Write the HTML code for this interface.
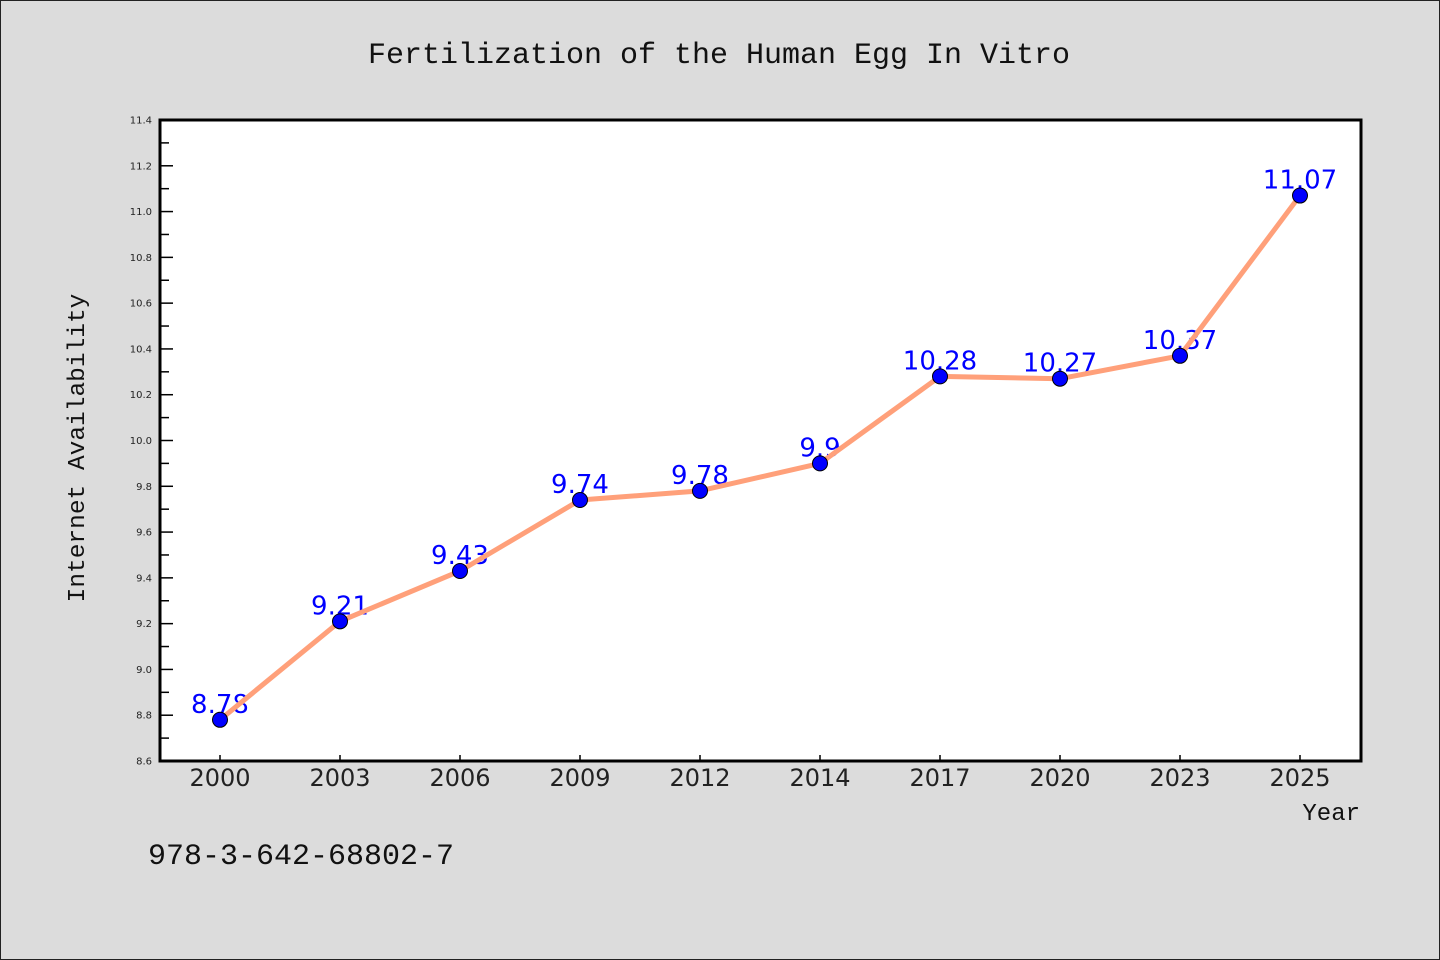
<!DOCTYPE html>
<html><head><meta charset="utf-8"><style>
html,body{margin:0;padding:0;background:#dcdcdc;}
#wrap{width:1438px;height:958px;border:1px solid #222;position:relative;background:#dcdcdc;overflow:hidden}
svg{position:absolute;left:-1px;top:-1px}
</style></head><body>
<div id="wrap">
<svg id="chart" width="1440" height="960">
<text x="719" y="63" text-anchor="middle" font-family="'Liberation Mono',monospace" font-size="30" fill="#111">Fertilization of the Human Egg In Vitro</text>
<text transform="translate(84,448) rotate(-90)" text-anchor="middle" font-family="'Liberation Mono',monospace" font-size="24.5" fill="#111">Internet Availability</text>
<text x="1360" y="820" text-anchor="end" font-family="'Liberation Mono',monospace" font-size="24" fill="#111">Year</text>
<text x="148" y="864" font-family="'Liberation Mono',monospace" font-size="30" fill="#111">978-3-642-68802-7</text>
<rect x="160" y="120" width="1201" height="641" fill="#fff"/>
<g id="g"></g>
<rect x="160" y="120" width="1201" height="641" fill="none" stroke="#000" stroke-width="3"/>
</svg></div>
<script>
const categories=["2000","2003","2006","2009","2012","2014","2017","2020","2023","2025"];
const values=[8.78,9.21,9.43,9.74,9.78,9.9,10.28,10.27,10.37,11.07];
const valueLabels=["8.78","9.21","9.43","9.74","9.78","9.9","10.28","10.27","10.37","11.07"];
const yTicks=[8.6,8.8,9.0,9.2,9.4,9.6,9.8,10.0,10.2,10.4,10.6,10.8,11.0,11.2,11.4];
const yMin=8.6,yMax=11.4;
const L=160,R=1360,T=120,B=761;
const ns="http://www.w3.org/2000/svg";
const g=document.getElementById('g');
function y(v){return B-(v-yMin)/(yMax-yMin)*(B-T);}
function x(i){return L+(R-L)/categories.length*(i+0.5);}
function mk(t,a){const e=document.createElementNS(ns,t);for(const k in a)e.setAttribute(k,a[k]);g.appendChild(e);return e;}
yTicks.forEach((v,i)=>{
  const t=mk('line',{x1:L,x2:L+13,y1:y(v),y2:y(v),stroke:'#000','stroke-width':1.5});
  
  
  const l=mk('text',{x:L-8,y:y(v)+3.5,'text-anchor':'end','font-family':'DejaVu Sans,sans-serif','font-size':10,fill:'#222'});
  l.textContent=v.toFixed(1);
  
  
  if(i<yTicks.length-1){
    const m=mk('line',{x1:L,x2:L+9,y1:y(v+0.1),y2:y(v+0.1),stroke:'#000','stroke-width':1.5});
    
    
  }
});
categories.forEach((c,i)=>{
  const t=mk('line',{x1:x(i),x2:x(i),y1:B,y2:B-6,stroke:'#000','stroke-width':1.5});
  
  
  const l=mk('text',{x:x(i),y:B+25,'text-anchor':'middle','font-family':'DejaVu Sans,sans-serif','font-size':24,fill:'#222'});
  l.textContent=c;
  
  
});
values.forEach((v,i)=>{
  const l=mk('text',{x:x(i),y:y(v)-7,'text-anchor':'middle','font-family':'DejaVu Sans,sans-serif','font-size':26,fill:'#0000ff'});
  l.textContent=valueLabels[i];
  
  
});
const p=mk('polyline',{points:values.map((v,i)=>x(i)+','+y(v)).join(' '),fill:'none',stroke:'#ffa07a','stroke-width':5,'stroke-linejoin':'round'});


values.forEach((v,i)=>{
  const c=mk('circle',{cx:x(i),cy:y(v),r:7.5,fill:'#0000ff',stroke:'#000','stroke-width':1});
  
  
});
</script>
</body></html>
